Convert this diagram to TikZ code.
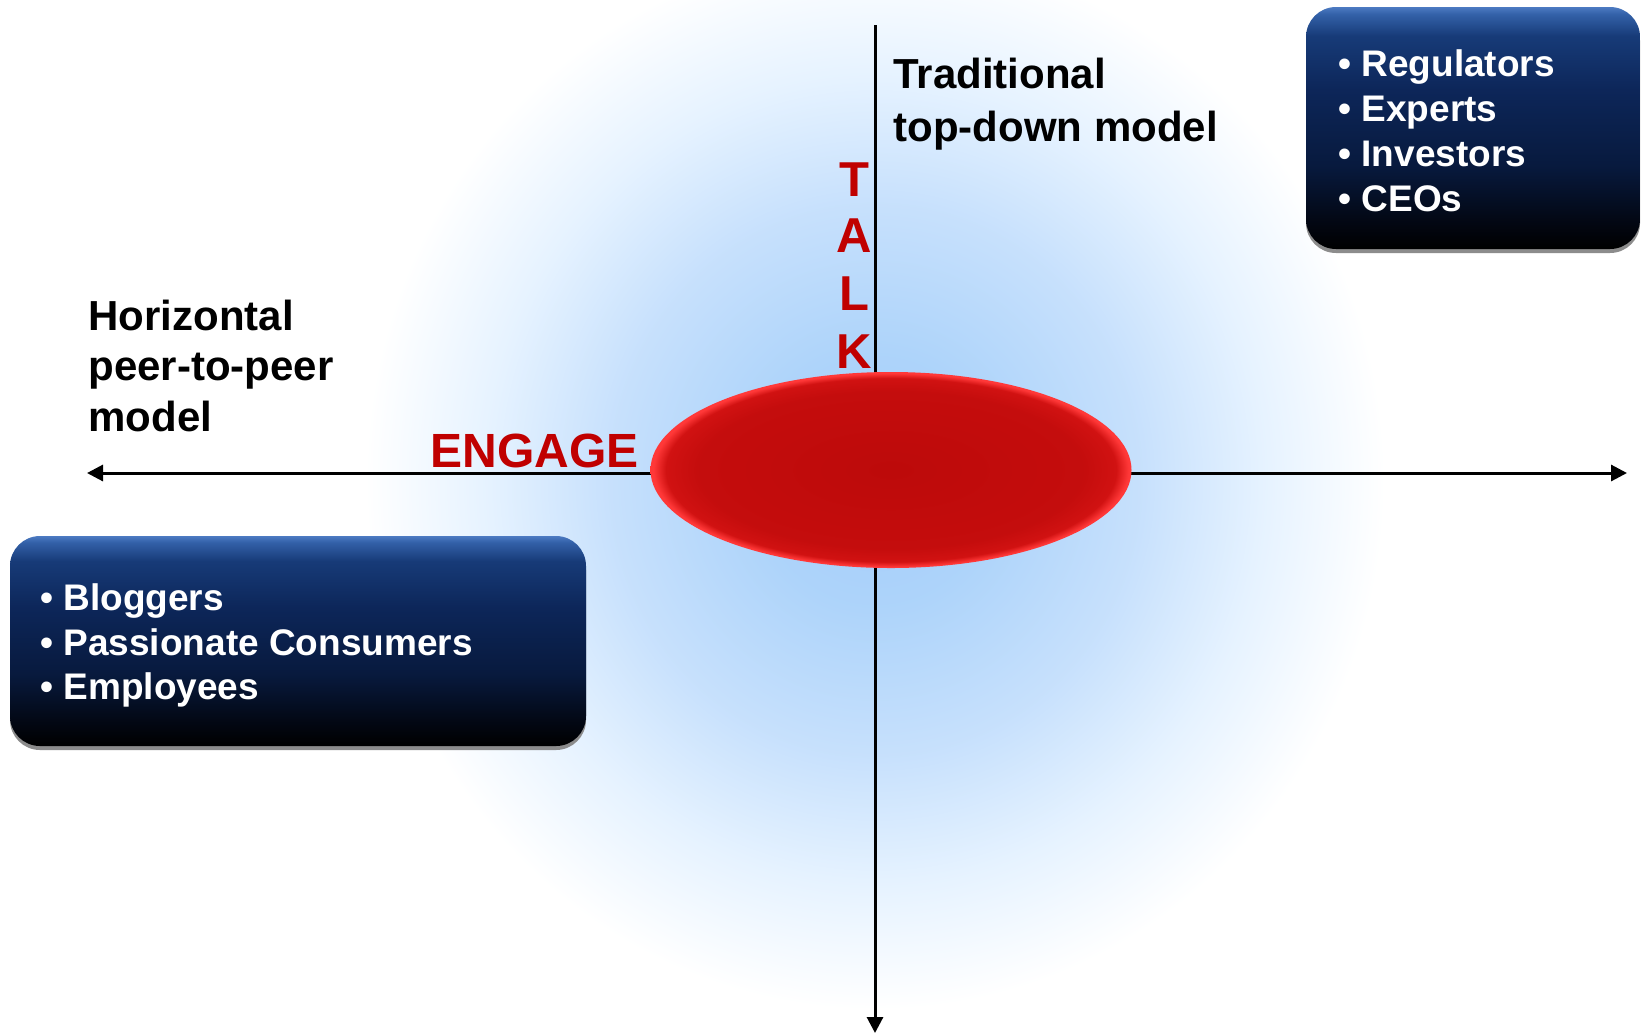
\documentclass[tikz,border=0pt]{standalone}
\usepackage{fontspec}
\setmainfont{Liberation Sans}
\usetikzlibrary{shapes.geometric,arrows.meta,shadows}
\definecolor{talkred}{RGB}{192,0,0}
\pgfdeclareradialshading{glowshade}{\pgfpoint{0bp}{0bp}}{%
  rgb(0bp)=(0.64,0.80,0.98);
  rgb(6bp)=(0.68,0.83,0.98);
  rgb(13bp)=(0.78,0.88,0.99);
  rgb(19bp)=(0.90,0.95,1.0);
  rgb(25bp)=(1,1,1);
  rgb(50bp)=(1,1,1)}
\pgfdeclareradialshading{coreshade}{\pgfpoint{0bp}{0bp}}{%
  rgb(0bp)=(0.74,0.04,0.04);
  rgb(20bp)=(0.77,0.05,0.05);
  rgb(23.4bp)=(0.82,0.07,0.07);
  rgb(24.7bp)=(1.0,0.22,0.22);
  rgb(50bp)=(1.0,0.22,0.22)}
\pgfdeclareverticalshading{boxshade}{100bp}{%
  rgb(0bp)=(0,0,0);
  rgb(25bp)=(0,0,0);
  rgb(31bp)=(0.01,0.03,0.08);
  rgb(42bp)=(0.03,0.10,0.24);
  rgb(58bp)=(0.05,0.15,0.35);
  rgb(69bp)=(0.09,0.23,0.47);
  rgb(73.5bp)=(0.20,0.38,0.66);
  rgb(75bp)=(0.30,0.48,0.76);
  rgb(100bp)=(0.30,0.48,0.76)}
\begin{document}
\begin{tikzpicture}[x=0.5pt,y=-0.5pt,
  lbl/.style={font=\fontsize{21}{25}\selectfont\bfseries, inner sep=0pt, anchor=base west},
  blt/.style={font=\fontsize{18.5}{22}\selectfont\bfseries, text=white, inner sep=0pt, anchor=base west},
  redlbl/.style={font=\fontsize{24}{28}\selectfont\bfseries, text=talkred, inner sep=0pt},
  talklbl/.style={font=\fontsize{24.5}{28}\selectfont\bfseries, text=talkred, inner sep=0pt, anchor=base},
  axisline/.style={line width=1.5pt, black},
  panel/.style={rectangle, rounded corners=15pt, shading=boxshade, inner sep=0pt,
    drop shadow={shadow xshift=0pt, shadow yshift=-2pt, fill=black!45, opacity=1}},
  core/.style={ellipse, shading=coreshade, inner sep=0pt}]
\useasboundingbox[fill=white] (0,0) rectangle (1641,1034);
% background glow
\shade[shading=glowshade] (875,480) ellipse [x radius=255pt, y radius=265pt];
% axes
\coordinate (axTop) at (875,25);
\coordinate (axBot) at (875,1033);
\coordinate (axL) at (87,473);
\coordinate (axR) at (1627,473);
\draw[axisline, -{Triangle[length=8pt,width=8pt]}] (axTop) -- (axBot);
\draw[axisline, {Triangle[length=8pt,width=8pt]}-{Triangle[length=8pt,width=8pt]}] (axL) -- (axR);
% central ellipse
\node[core, minimum width=240.5pt, minimum height=98pt] (hub) at (891,470) {};
% labels
\node[lbl] (trad1) at (893,88) {Traditional};
\node[lbl] (trad2) at (893,141) {top-down model};
\node[lbl] (hor1) at (88,330) {Horizontal};
\node[lbl] (hor2) at (88,380) {peer-to-peer};
\node[lbl] (hor3) at (88,431) {model};
\node[redlbl, anchor=base west] (engage) at (430,467) {ENGAGE};
\node[talklbl] (talkT) at (854,196) {T};
\node[talklbl] (talkA) at (854,252) {A};
\node[talklbl] (talkL) at (854,310) {L};
\node[talklbl] (talkK) at (854,368) {K};
% panels
\node[panel, minimum width=167pt, minimum height=121pt] (boxTR) at (1473,128) {};
\node[panel, minimum width=288pt, minimum height=105pt] (boxBL) at (298,641) {};
\node[blt] (r1) at (1338,76) {• Regulators};
\node[blt] (r2) at (1338,121) {• Experts};
\node[blt] (r3) at (1338,166) {• Investors};
\node[blt] (r4) at (1338,211) {• CEOs};
\node[blt] (b1) at (40,610) {• Bloggers};
\node[blt] (b2) at (40,655) {• Passionate Consumers};
\node[blt] (b3) at (40,699) {• Employees};
\end{tikzpicture}
\end{document}
